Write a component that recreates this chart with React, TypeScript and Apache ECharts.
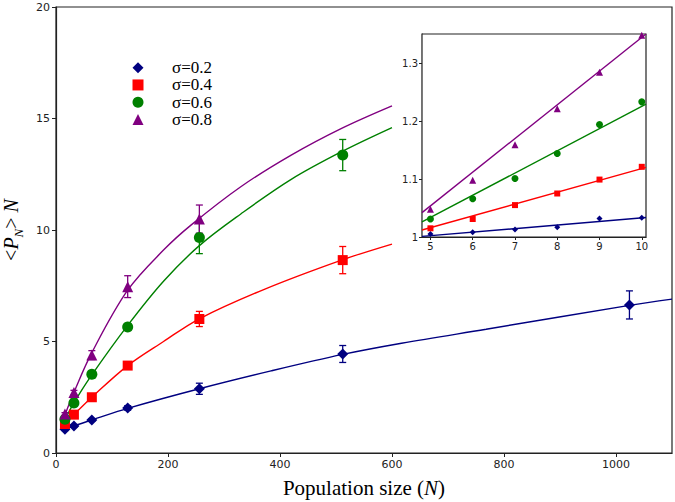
import React, { useEffect, useRef } from "react";
import * as echarts from "echarts";

// ---- data ----
const sigmaLabels = ["σ=0.2", "σ=0.4", "σ=0.6", "σ=0.8"];
const popSizes = [16, 32, 64, 128, 256, 512, 1024];

const blueVals = [1.06, 1.21, 1.48, 2.02, 2.88, 4.44, 6.64];
const blueErr = [0.05, 0.05, 0.06, 0.1, 0.25, 0.38, 0.63];
const redVals = [1.3, 1.72, 2.5, 3.92, 6.01, 8.65];
const redErr = [0.05, 0.06, 0.1, 0.12, 0.34, 0.61];
const greenVals = [1.51, 2.24, 3.53, 5.65, 9.66, 13.36];
const greenErr = [0.05, 0.08, 0.12, 0.15, 0.72, 0.7];
const purpleVals = [1.75, 2.71, 4.39, 7.46, 10.49];
const purpleErr = [0.06, 0.1, 0.2, 0.49, 0.63];

const blueFitN = [16, 32, 64, 128, 256, 384, 512, 617, 768, 1024, 1100];
const blueFit = [1.07, 1.22, 1.48, 2.0, 2.88, 3.68, 4.42, 4.92, 5.55, 6.62, 6.9];
const redFitN = [16, 32, 64, 128, 192, 256, 372, 510, 600];
const redFit = [1.3, 1.72, 2.5, 3.92, 5.0, 6.02, 7.34, 8.65, 9.37];
const greenFitN = [16, 32, 64, 128, 192, 256, 330, 420, 510, 600];
const greenFit = [1.5, 2.25, 3.5, 5.72, 7.7, 9.3, 10.72, 12.27, 13.51, 14.59];
const purpleFitN = [16, 32, 64, 128, 192, 241, 330, 420, 510, 600];
const purpleFit = [1.7, 2.72, 4.5, 7.3, 9.1, 10.22, 11.94, 13.36, 14.56, 15.57];

const insetX = [5, 6, 7, 8, 9, 10];
const blueIn = [1.005, 1.008, 1.013, 1.017, 1.032, 1.033];
const redIn = [1.015, 1.031, 1.055, 1.075, 1.099, 1.121];
const greenIn = [1.031, 1.066, 1.101, 1.144, 1.194, 1.233];
const purpleIn = [1.048, 1.098, 1.159, 1.221, 1.284, 1.348];
const insetFitX = [4.8, 10.1];
const blueInFit = [1.001, 1.0335];
const redInFit = [1.012, 1.12];
const greenInFit = [1.026, 1.229];
const purpleInFit = [1.042, 1.35];

const mainXTicks = [0, 200, 400, 600, 800, 1000];
const mainYTicks = [0, 5, 10, 15, 20];
const insetXTicks = [5, 6, 7, 8, 9, 10];
const insetYTicks = [1, 1.1, 1.2, 1.3];

const colors = ["#000080", "#ff0000", "#008000", "#800080"];
const symbols = ["diamond", "rect", "circle", "triangle"];
const mainSizes = [11, 10, 11, 11];
const insetSizes = [6, 6, 7, 7];

const zip = (xs: number[], ys: number[]) => ys.map((y, i) => [xs[i], y]);
const zip3 = (xs: number[], ys: number[], es: number[]) => ys.map((y, i) => [xs[i], y, es[i]]);

function errorSeries(data: number[][], color: string) {
  return {
    type: "custom",
    xAxisIndex: 0,
    yAxisIndex: 0,
    z: 3,
    silent: true,
    encode: { x: 0, y: 1 },
    data,
    renderItem: (_p: any, api: any) => {
      const x = api.value(0), y = api.value(1), e = api.value(2);
      const t = api.coord([x, y + e]);
      const b = api.coord([x, y - e]);
      const hw = 3.5;
      const st = { stroke: color, lineWidth: 1.3 };
      return {
        type: "group",
        children: [
          { type: "line", shape: { x1: t[0], y1: t[1], x2: b[0], y2: b[1] }, style: st },
          { type: "line", shape: { x1: t[0] - hw, y1: t[1], x2: t[0] + hw, y2: t[1] }, style: st },
          { type: "line", shape: { x1: b[0] - hw, y1: b[1], x2: b[0] + hw, y2: b[1] }, style: st },
        ],
      };
    },
  };
}

function lineSeries(name: string, axis: number, data: number[][], color: string, smooth: boolean) {
  return {
    name,
    type: "line",
    xAxisIndex: axis,
    yAxisIndex: axis,
    data,
    smooth: smooth ? 0.35 : false,
    showSymbol: false,
    symbol: "none",
    silent: true,
    z: axis === 1 ? 10 : 2,
    lineStyle: { color, width: 1.4 },
  };
}

function scatterSeries(name: string, axis: number, data: number[][], i: number, size: number) {
  return {
    name,
    type: "scatter",
    xAxisIndex: axis,
    yAxisIndex: axis,
    data,
    symbol: symbols[i],
    symbolSize: size,
    z: axis === 1 ? 11 : 4,
    itemStyle: { color: colors[i], opacity: 1 },
  };
}

const tickLabel = { fontFamily: "DejaVu Sans", fontSize: 11, color: "#222" };
const axisLine = { show: true, lineStyle: { color: "#222", width: 1.2 } };

export default function App() {
  const ref = useRef<HTMLDivElement>(null);
  useEffect(() => {
    document.body.style.margin = "0";
    const chart = echarts.init(ref.current!, null, { renderer: "svg" });
    const mainVals = [blueVals, redVals, greenVals, purpleVals];
    const mainErrs = [blueErr, redErr, greenErr, purpleErr];
    const fits = [
      zip(blueFitN, blueFit),
      zip(redFitN, redFit),
      zip(greenFitN, greenFit),
      zip(purpleFitN, purpleFit),
    ];
    const insetVals = [blueIn, redIn, greenIn, purpleIn];
    const insetFits = [blueInFit, redInFit, greenInFit, purpleInFit];

    const series: any[] = [];
    for (let i = 0; i < 4; i++) {
      series.push(lineSeries("fit" + i, 0, fits[i], colors[i], true));
      series.push(errorSeries(zip3(popSizes, mainVals[i], mainErrs[i]), colors[i]));
      series.push(scatterSeries(sigmaLabels[i], 0, zip(popSizes, mainVals[i]), i, mainSizes[i]));
    }
    for (let i = 0; i < 4; i++) {
      series.push(lineSeries("insetFit" + i, 1, zip(insetFitX, insetFits[i]), colors[i], false));
      series.push(scatterSeries("inset" + i, 1, zip(insetX, insetVals[i]), i, insetSizes[i]));
    }

    chart.setOption({
      animation: false,
      backgroundColor: "#fff",
      grid: [
        { left: 56, top: 7, width: 616, height: 446, outerBoundsMode: "none", containLabel: false, show: true, borderColor: "#222", borderWidth: 1.2, backgroundColor: "transparent" },
        { left: 422, top: 34, width: 224, height: 203, outerBoundsMode: "none", containLabel: false, show: true, borderColor: "#222", borderWidth: 1.2, backgroundColor: "#fff", z: 5 },
      ],
      legend: {
        data: sigmaLabels,
        orient: "vertical",
        left: 127.5,
        top: 54,
        itemWidth: 11,
        itemHeight: 11,
        itemGap: 0,
        selectedMode: false,
        textStyle: { fontFamily: "Liberation Serif", fontSize: 17, color: "#000", lineHeight: 17.3, padding: [0, 0, 0, 23.5] },
      },
      xAxis: [
        {
          gridIndex: 0,
          type: "value",
          min: 0,
          max: 1100,
          splitLine: { show: false },
          axisLine,
          axisTick: { show: true, length: 4, customValues: mainXTicks, lineStyle: { color: "#222" } },
          axisLabel: { ...tickLabel, customValues: mainXTicks, formatter: (v: number) => String(v), margin: 6 },
          name: "{a|Population size (}{i|N}{a|)}",
          nameLocation: "middle",
          nameGap: 24,
          nameTextStyle: {
            rich: {
              a: { fontFamily: "Liberation Serif", fontSize: 21, color: "#000" },
              i: { fontFamily: "Liberation Serif", fontSize: 21, fontStyle: "italic", color: "#000" },
            },
          },
        },
        {
          gridIndex: 1,
          type: "value",
          min: 4.8,
          max: 10.1,
          splitLine: { show: false },
          axisLine,
          axisTick: { show: true, length: 3, customValues: insetXTicks, lineStyle: { color: "#222" } },
          axisLabel: { ...tickLabel, fontSize: 10, customValues: insetXTicks, formatter: (v: number) => String(v), margin: 4 },
        },
      ],
      yAxis: [
        {
          gridIndex: 0,
          type: "value",
          min: 0,
          max: 20,
          interval: 5,
          splitLine: { show: false },
          axisLine,
          axisTick: { show: true, length: 4, lineStyle: { color: "#222" } },
          axisLabel: { ...tickLabel, customValues: mainYTicks, margin: 6 },
          name: "{t|<}{i|P}{s|N}{t|> }{i|N}",
          nameLocation: "middle",
          nameGap: 27,
          nameTextStyle: {
            rich: {
              t: { fontFamily: "Liberation Serif", fontSize: 20, color: "#000", lineHeight: 21, verticalAlign: "top" },
              i: { fontFamily: "Liberation Serif", fontSize: 20, fontStyle: "italic", color: "#000", lineHeight: 21, verticalAlign: "top" },
              s: { fontFamily: "Liberation Serif", fontSize: 13, fontStyle: "italic", color: "#000", lineHeight: 13, padding: [11, 0, 0, 0], verticalAlign: "top" },
            },
          },
        },
        {
          gridIndex: 1,
          type: "value",
          min: 1,
          max: 1.35,
          splitLine: { show: false },
          axisLine,
          axisTick: { show: true, length: 3, customValues: insetYTicks, lineStyle: { color: "#222" } },
          axisLabel: { ...tickLabel, fontSize: 10, customValues: insetYTicks, formatter: (v: number) => String(v), margin: 4 },
        },
      ],
      series,
    });
    return () => chart.dispose();
  }, []);
  return <div ref={ref} style={{ width: 675, height: 502 }} />;
}
